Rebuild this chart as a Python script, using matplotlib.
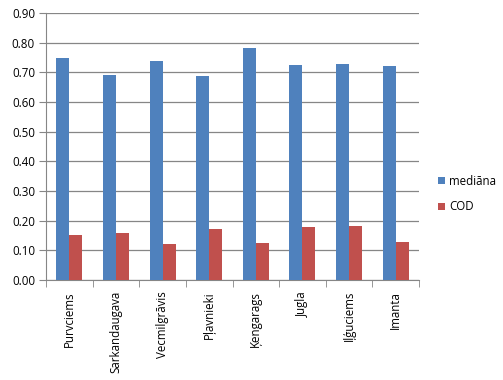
import numpy as np
import matplotlib
matplotlib.use('Agg')
import matplotlib.pyplot as plt

# values
districts = ['Purvciems', 'Sarkandaugava', 'Vecmilgrāvis', 'Pļavnieki',
             'Ķengarags', 'Jugla', 'Iļģuciems', 'Imanta']
mediana = [0.748, 0.691, 0.738, 0.688, 0.782, 0.726, 0.729, 0.721]
cod = [0.152, 0.159, 0.122, 0.172, 0.126, 0.179, 0.182, 0.129]
yticks = [0.0, 0.1, 0.2, 0.3, 0.4, 0.5, 0.6, 0.7, 0.8, 0.9]

plt.rcParams['font.family'] = ['Open Sans', 'DejaVu Sans']

fig = plt.figure(figsize=(5.03, 3.8), dpi=100)
ax = fig.add_axes([46 / 503, 1 - 280 / 380, (419 - 46) / 503, (280 - 13) / 380])

x = np.arange(len(districts))
w = 0.28
ax.bar(x - w / 2, mediana, w, color='#4F81BD', label='mediāna', zorder=3)
ax.bar(x + w / 2, cod, w, color='#C0504D', label='COD', zorder=3)

ax.set_xlim(-0.5, len(districts) - 0.5)
ax.set_ylim(0, 0.9)
ax.set_yticks(yticks)
ax.set_yticklabels(['%.2f' % v for v in yticks], fontsize=8.3)
ax.yaxis.grid(True, color='#868686', linewidth=0.9, zorder=0)

# category labels centred, tick marks on category borders
ax.set_xticks(x)
ax.set_xticklabels(districts, rotation=90, fontsize=8.3)
ax.tick_params(axis='x', length=0, pad=8)
ax.set_xticks(np.arange(-0.5, len(districts)), minor=True)
ax.tick_params(axis='x', which='minor', length=5, color='#868686')
ax.tick_params(axis='y', length=5, color='#868686', pad=3)

for side in ['top', 'right']:
    ax.spines[side].set_visible(False)
for side in ['left', 'bottom']:
    ax.spines[side].set_color('#868686')

ax.legend(loc='center left', bbox_to_anchor=(428 / 503, 1 - 194 / 380),
          bbox_transform=fig.transFigure, frameon=False,
          fontsize=8.3, handlelength=0.6, handleheight=0.6, labelspacing=1.1,
          handletextpad=0.3)

fig.savefig('out.png', dpi=100)
